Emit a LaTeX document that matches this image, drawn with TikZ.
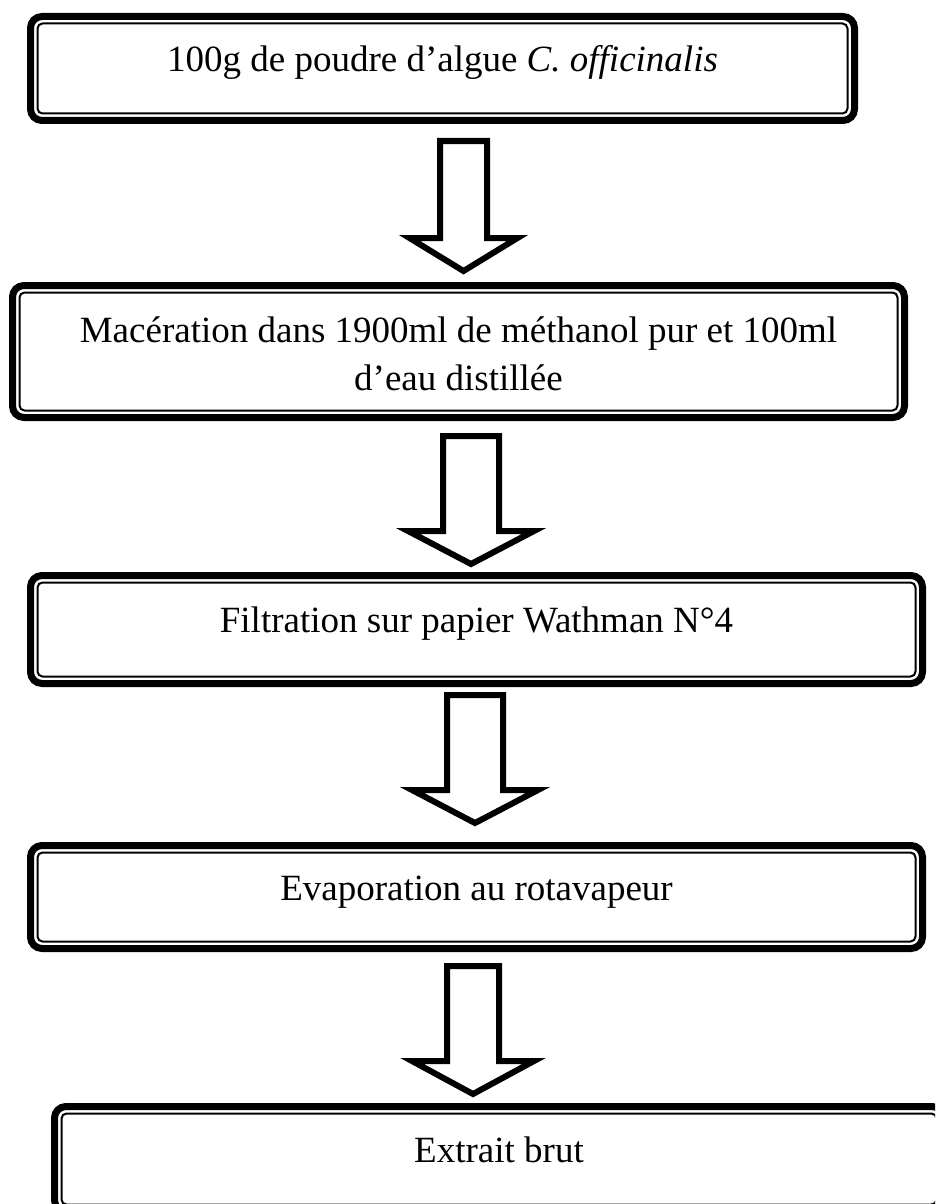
\documentclass[tikz,border=0pt]{standalone}
\usepackage{fontspec}
\setmainfont{Liberation Serif}
\usetikzlibrary{calc}
\tikzset{
  Stage/.style = {draw, line width=7pt, rounded corners=11.5pt, inner sep=0pt, outer sep=0pt,
                  font=\fontsize{37}{48}\selectfont, text height=30pt, text depth=24pt},
  Frame/.style = {draw, line width=2pt, rounded corners=5pt},
  Flow/.style  = {draw, line width=6pt, miter limit=10},
}

\begin{document}
\begin{tikzpicture}[x=1pt, y=1pt]
\clip (0,0) rectangle (935,-1204);

% ======================= stages =========================================
\node[Stage, minimum width=824, minimum height=104] (powder) at (442.5,-68.5)
  {100g de poudre d’algue \textit{C. officinalis}};
\node[Stage, minimum width=892, minimum height=132, align=center,
      text height=101pt, text depth=24pt] (macer) at (458.5,-351.5)
  {Macération dans 1900ml de méthanol pur et 100ml\\d’eau distillée};
\node[Stage, minimum width=892, minimum height=108] (filtr) at (476.5,-629.5)
  {Filtration sur papier Wathman N°4};
\node[Stage, minimum width=892, minimum height=103] (evap) at (476.5,-897)
  {Evaporation au rotavapeur};
\node[Stage, minimum width=889, minimum height=105] (extr) at (499,-1159)
  {Extrait brut};

% thin inner line of every frame
\foreach \n in {powder, macer, filtr, evap, extr}
  \draw[Frame] ([shift={(7,7)}]\n.south west) rectangle ([shift={(-7,-7)}]\n.north east);

% ======================= block arrows ===================================
% from/to/centre/shaft half/head half/gap top/gap tip
\foreach \a/\b/\cx/\s/\w/\gt/\gb in {powder/macer/463.5/23.5/54/20.5/14.5,
                                     macer/filtr/471/28/63/18.5/11.5,
                                     filtr/evap/475/28/63/11.5/22.5,
                                     evap/extr/473/26/61/17.5/12.5}
  \draw[Flow] let \p1 = (\a.south), \p2 = (\b.north) in
    (\cx pt-\s pt, \y1-\gt pt) -- (\cx pt+\s pt, \y1-\gt pt)
    -- (\cx pt+\s pt, \y2+\gb pt+33pt) -- (\cx pt+\w pt, \y2+\gb pt+33pt)
    -- (\cx pt, \y2+\gb pt) -- (\cx pt-\w pt, \y2+\gb pt+33pt)
    -- (\cx pt-\s pt, \y2+\gb pt+33pt) -- cycle;

\end{tikzpicture}
\end{document}
